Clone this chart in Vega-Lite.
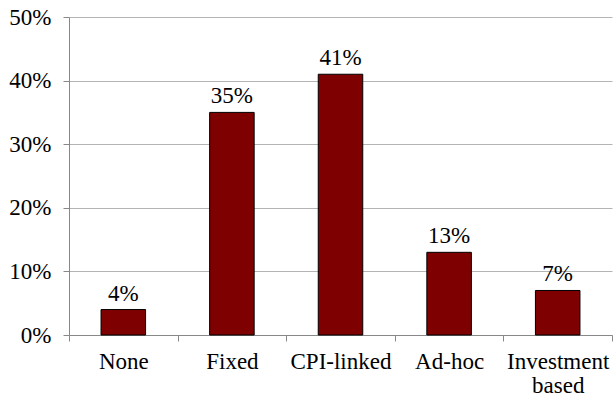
{
  "$schema": "https://vega.github.io/schema/vega-lite/v6.json",
  "width": 543,
  "height": 318,
  "autosize": {"type": "none"},
  "padding": {"left": 69, "top": 17, "right": 1, "bottom": 66},
  "background": "white",
  "config": {
    "view": {"stroke": null},
    "font": "Liberation Serif",
    "axis": {"labelFont": "Liberation Serif", "labelFontSize": 23, "labelColor": "#000", "domainColor": "#888", "tickColor": "#888", "gridColor": "#b4b4b4", "title": null, "labelOverlap": false}
  },
  "data": {"values": [
    {"cat": "None", "v": 0.04},
    {"cat": "Fixed", "v": 0.35},
    {"cat": "CPI-linked", "v": 0.41},
    {"cat": "Ad-hoc", "v": 0.13},
    {"cat": "Investment based", "v": 0.07}
  ]},
  "encoding": {
    "x": {"field": "cat", "type": "nominal", "sort": null,
      "scale": {"paddingInner": 0, "paddingOuter": 0},
      "axis": {"labelAngle": 0, "tickBand": "extent", "tickSize": 6, "labelPadding": 9, "labelLineHeight": 24,
        "labelExpr": "datum.label == 'Investment based' ? ['Investment','based'] : datum.label", "grid": false}},
    "y": {"field": "v", "type": "quantitative",
      "scale": {"domain": [0, 0.5]},
      "axis": {"format": ".0%", "values": [0, 0.1, 0.2, 0.3, 0.4, 0.5], "tickSize": 6, "labelPadding": 12, "grid": true, "labelFlush": false}}
  },
  "layer": [
    {"mark": {"type": "bar", "color": "#7f0000", "stroke": "#000", "strokeWidth": 1, "width": {"band": 0.41}}},
    {"mark": {"type": "text", "baseline": "bottom", "dy": -4, "fontSize": 23, "font": "Liberation Serif", "color": "#000"},
     "encoding": {"text": {"field": "v", "type": "quantitative", "format": ".0%"}}}
  ]
}
